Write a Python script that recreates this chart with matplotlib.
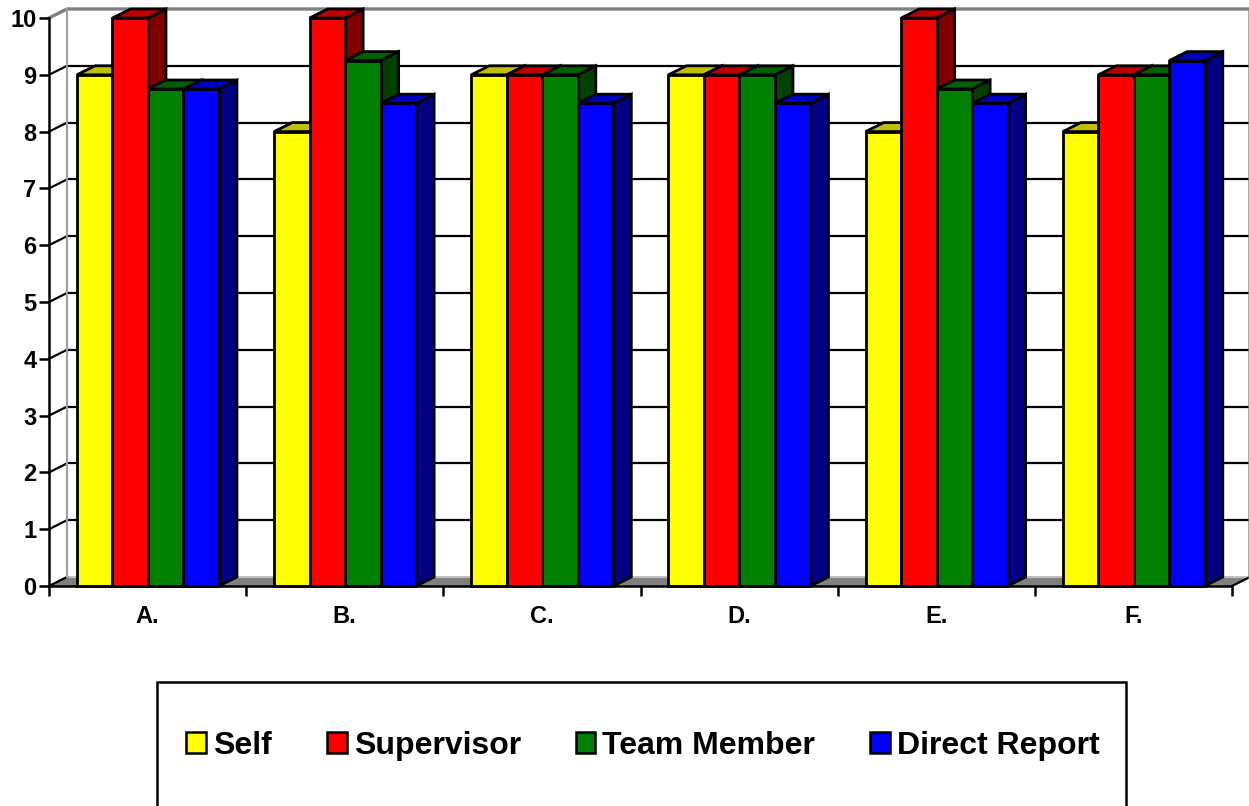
import matplotlib
matplotlib.use("Agg")
import matplotlib.pyplot as plt
from matplotlib.patches import Polygon, Rectangle, Patch
from matplotlib.ticker import FixedLocator

# ---- data ----
categories = ["A.", "B.", "C.", "D.", "E.", "F."]
series_names = ["Self", "Supervisor", "Team Member", "Direct Report"]
self_vals = [9, 8, 9, 9, 8, 8]
supervisor_vals = [10, 10, 9, 9, 10, 9]
team_vals = [8.75, 9.25, 9, 9, 8.75, 9]
direct_vals = [8.75, 8.5, 8.5, 8.5, 8.5, 9.25]
y_ticks = list(range(0, 11))

# ---- styles ----
front_cols = ["#FFFF00", "#FF0000", "#008000", "#0000FF"]
top_cols = ["#C0C000", "#C00000", "#006000", "#0000C0"]
side_cols = ["#808000", "#800000", "#004000", "#000080"]
FONT = "Liberation Sans"
LW = 2.0

W, H = 1249, 806
fig = plt.figure(figsize=(W / 100, H / 100), dpi=100)
x_left, x_right, y_bot, y_top = 49, 1232, 586, 18
ax = fig.add_axes([x_left / W, (H - y_bot) / H, (x_right - x_left) / W, (y_bot - y_top) / H])
n = len(categories)
ax.set_xlim(0, n)
ax.set_ylim(0, 10)

# depth offsets in data units
px_per_cat = (x_right - x_left) / n
px_per_val = (y_bot - y_top) / 10
DX = 18 / px_per_cat
DY = 9 / px_per_val

ymax = y_ticks[-1]
# walls
ax.add_patch(Polygon([(0, 0), (DX, DY), (DX, ymax + DY), (0, ymax)], closed=True,
                     facecolor="white", edgecolor="none", zorder=0.5, clip_on=False))
ax.add_patch(Polygon([(DX, DY), (n + DX, DY), (n + DX, ymax + DY), (DX, ymax + DY)], closed=True,
                     facecolor="white", edgecolor="none", zorder=0.5, clip_on=False))
# floor
ax.add_patch(Polygon([(0, 0), (n, 0), (n + DX, DY), (DX, DY)], closed=True,
                     facecolor="#808080", edgecolor="none", zorder=0.6, clip_on=False))
ax.plot([DX, n + DX], [DY, DY], color="#C0C0C0", lw=1.5, zorder=0.65, clip_on=False)
ax.plot([n, n + DX], [0, DY], color="black", lw=1.6, zorder=0.7, clip_on=False)

# gridlines
for k in y_ticks[:-1]:
    if k > 0:
        ax.plot([DX, n + DX], [k + DY, k + DY], color="black", lw=1.6, zorder=0.7, clip_on=False)
    ax.plot([0, DX], [k, k + DY], color="black", lw=1.6, zorder=0.7, clip_on=False)
# wall borders (grey)
ax.plot([0, DX, n + DX, n + DX], [ymax, ymax + DY, ymax + DY, DY], color="#808080", lw=2.4,
        zorder=0.75, clip_on=False)
ax.plot([DX, DX], [DY, ymax + DY], color="#A0A0A0", lw=1.5, zorder=0.75, clip_on=False)

# bars
all_vals = [self_vals, supervisor_vals, team_vals, direct_vals]
start = 0.142
bw = 0.18
z = 3.0
for ci in range(n):
    for si, vals in enumerate(all_vals):
        h = vals[ci]
        x0 = ci + start + si * bw
        x1 = x0 + bw
        side = Polygon([(x1, 0), (x1 + DX, DY), (x1 + DX, h + DY), (x1, h)], closed=True,
                       facecolor=side_cols[si], edgecolor="black", lw=LW, zorder=z, clip_on=False,
                       joinstyle="miter")
        top = Polygon([(x0, h), (x1, h), (x1 + DX, h + DY), (x0 + DX, h + DY)], closed=True,
                      facecolor=top_cols[si], edgecolor="black", lw=LW, zorder=z + 0.01, clip_on=False,
                      joinstyle="miter")
        ax.add_patch(side)
        ax.add_patch(top)
        ax.bar([x0], [h], width=bw, align="edge", color=front_cols[si], edgecolor="black",
               linewidth=LW, zorder=z + 0.02, clip_on=False)
        z += 0.1

# axes / ticks
for s in ["top", "right"]:
    ax.spines[s].set_visible(False)
for s in ["left", "bottom"]:
    ax.spines[s].set_linewidth(1.8)
    ax.spines[s].set_zorder(50)
ax.set_yticks(y_ticks)
ax.set_yticklabels([str(t) for t in y_ticks], fontfamily=FONT, fontweight="bold", fontsize=17)
ax.tick_params(axis="y", length=7, width=1.8, pad=2)
ax.xaxis.set_major_locator(FixedLocator(list(range(n + 1))))
ax.xaxis.set_minor_locator(FixedLocator([i + 0.5 for i in range(n)]))
ax.set_xticklabels([""] * (n + 1))
ax.set_xticklabels(categories, minor=True, fontfamily=FONT, fontweight="bold", fontsize=17)
ax.tick_params(axis="x", which="major", length=7, width=1.8)
ax.tick_params(axis="x", which="minor", length=0, pad=14)
ax.set_facecolor("none")

# legend
handles = [Patch(facecolor=c, edgecolor="black", linewidth=1.8) for c in front_cols]
fig.legend(handles, series_names, ncol=4, loc="center",
           bbox_to_anchor=(643 / W, (H - 746) / H), frameon=False,
           prop={"family": FONT, "weight": "bold", "size": 23},
           handlelength=0.62, handleheight=0.62, handletextpad=0.22, columnspacing=1.72)
fig.patches.append(Rectangle((157 / W, -0.01), (1126 - 157) / W, (H - 682) / H + 0.01,
                             transform=fig.transFigure, fill=False, edgecolor="black", lw=1.8))

fig.savefig("out.png", dpi=100)
